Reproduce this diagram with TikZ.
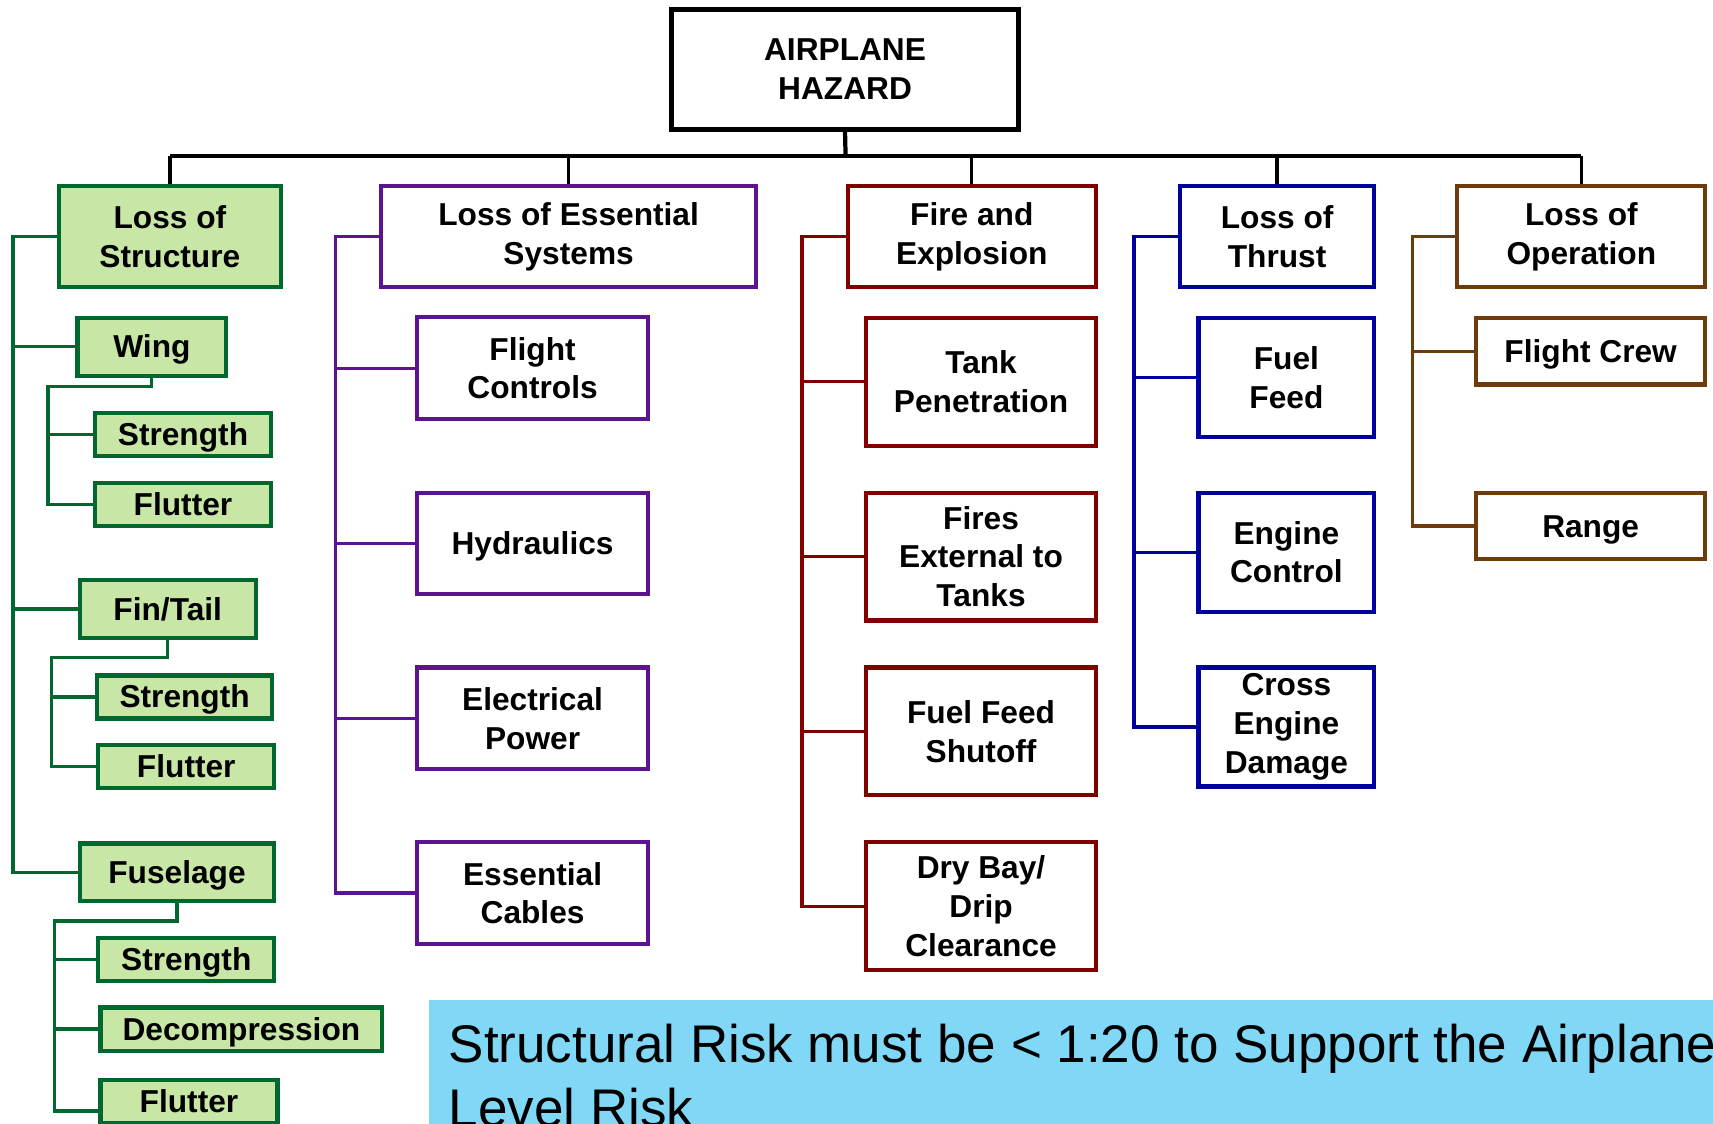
\documentclass[tikz,border=0pt]{standalone}
\usepackage{fontspec}
\setmainfont{Liberation Sans}
\definecolor{strgreen}{HTML}{00682F}
\definecolor{strfill}{HTML}{C8E6A6}
\definecolor{esspurple}{HTML}{5C1390}
\definecolor{firered}{HTML}{800000}
\definecolor{thrustblue}{HTML}{00009C}
\definecolor{opbrown}{HTML}{6E3C0A}
\definecolor{notecyan}{HTML}{80D7F6}
\begin{document}
\begin{tikzpicture}[x=1cm, y=-1cm,
    box/.style={draw, line width=1.1pt, align=center, inner sep=1pt,
        font=\fontsize{8.25}{10.1}\selectfont\bfseries},
    oneline/.style={text height=7.47pt, text depth=1.75pt},
    strbox/.style={box, draw=strgreen, fill=strfill},
    substr/.style={strbox, oneline},
    essbox/.style={box, draw=esspurple, minimum width=2.11cm, minimum height=0.93cm},
    firebox/.style={box, draw=firered, minimum width=2.10cm, minimum height=1.17cm},
    thbox/.style={box, draw=thrustblue, minimum width=1.61cm, minimum height=1.09cm},
    opbox/.style={box, draw=opbrown, minimum width=2.10cm, minimum height=0.61cm, oneline},
    busline/.style={line width=1.1pt},
    link/.style={line width=0.85pt},
    note/.style={fill=notecyan, anchor=north west, align=left,
        inner xsep=0.18cm, inner ysep=0.215cm,
        font=\fontsize{13.8}{16.8}\selectfont}]
    \useasboundingbox (0,0) rectangle (15.68,10.28);
    \clip (0,0) rectangle (15.68,10.28);

    % Top
    \node[box, line width=1.4pt, minimum width=3.18cm, minimum height=1.10cm] (hazard) at (7.735,0.635) {AIRPLANE\\HAZARD};

    % Level 1
    \node[strbox, minimum width=2.03cm, minimum height=0.93cm] (struct) at (1.555,2.165) {Loss of\\Structure};
    \node[box, draw=esspurple, minimum width=3.43cm, minimum height=0.93cm] (essen) at (5.205,2.165) {Loss of Essential\\Systems};
    \node[box, draw=firered, minimum width=2.27cm, minimum height=0.93cm] (fire) at (8.895,2.165) {Fire and\\Explosion};
    \node[box, draw=thrustblue, minimum width=1.78cm, minimum height=0.93cm] (thrust) at (11.69,2.165) {Loss of\\Thrust};
    \node[box, draw=opbrown, minimum width=2.27cm, minimum height=0.93cm] (oper) at (14.475,2.165) {Loss of\\Operation};

    \coordinate (topbus) at (7.74,1.43);
    \draw[busline] (hazard.south) -- (topbus);
    \draw[busline] (struct.north |- topbus) -- (oper.north |- topbus);
    \foreach \n in {struct,essen,fire,thrust,oper}
        \draw[link] (\n.north) -- (\n.north |- topbus);

    % Structure
    \node[substr, minimum width=1.36cm, minimum height=0.53cm] (wing) at (1.39,3.175) {Wing};
    \node[substr, minimum width=1.61cm, minimum height=0.37cm] (wstr) at (1.675,3.975) {Strength};
    \node[substr, minimum width=1.61cm, minimum height=0.37cm] (wflu) at (1.675,4.615) {Flutter};
    \node[substr, minimum width=1.61cm, minimum height=0.53cm] (fin) at (1.535,5.575) {Fin/Tail};
    \node[substr, minimum width=1.60cm, minimum height=0.36cm] (fstr) at (1.69,6.38) {Strength};
    \node[substr, minimum width=1.61cm, minimum height=0.37cm] (fflu) at (1.705,7.015) {Flutter};
    \node[substr, minimum width=1.78cm, minimum height=0.53cm] (fus) at (1.62,7.985) {Fuselage};
    \node[substr, minimum width=1.61cm, minimum height=0.37cm] (ustr) at (1.705,8.785) {Strength};
    \node[substr, minimum width=2.58cm, minimum height=0.38cm] (udec) at (2.21,9.42) {Decompression};
    \node[substr, minimum width=1.62cm, minimum height=0.38cm] (uflu) at (1.73,10.08) {Flutter};

    \coordinate (stbus) at (0.12,2.165);
    \draw[link, strgreen] (struct.west) -- (stbus) |- (fus.west);
    \foreach \n in {wing,fin}
        \draw[link, strgreen] (stbus |- \n.west) -- (\n.west);
    \foreach \p/\s/\f/\x/\y in {wing/wstr/wflu/0.44/3.54, fin/fstr/fflu/0.47/6.02} {
        \coordinate (\p bus) at (\x,\y);
        \draw[link, strgreen] (\p.south) |- (\p bus) |- (\f.west);
        \draw[link, strgreen] (\p bus |- \s.west) -- (\s.west);
    }
    \coordinate (fusbus) at (0.50,8.43);
    \draw[link, strgreen] (fus.south) |- (fusbus) |- ([yshift=-0.09cm]uflu.west);
    \foreach \n in {ustr,udec}
        \draw[link, strgreen] (fusbus |- \n.west) -- (\n.west);

    % Essential Systems
    \node[essbox] (fctl) at (4.875,3.37) {Flight\\Controls};
    \node[essbox, oneline] (hydr) at (4.875,4.975) {Hydraulics};
    \node[essbox] (elec) at (4.875,6.575) {Electrical\\Power};
    \node[essbox] (ecab) at (4.875,8.175) {Essential\\Cables};
    \coordinate (esbus) at (3.07,2.165);
    \draw[link, esspurple] (essen.west) -- (esbus) |- (ecab.west);
    \foreach \n in {fctl,hydr,elec}
        \draw[link, esspurple] (esbus |- \n.west) -- (\n.west);

    % Fire and Explosion
    \node[firebox] (tank) at (8.98,3.495) {Tank\\Penetration};
    \node[firebox] (fext) at (8.98,5.095) {Fires\\External to\\Tanks};
    \node[firebox] (fshut) at (8.98,6.695) {Fuel Feed\\Shutoff};
    \node[firebox] (dbay) at (8.98,8.295) {Dry Bay/\\Drip\\Clearance};
    \coordinate (firebus) at (7.34,2.165);
    \draw[link, firered] (fire.west) -- (firebus) |- (dbay.west);
    \foreach \n in {tank,fext,fshut}
        \draw[link, firered] (firebus |- \n.west) -- (\n.west);

    % Thrust
    \node[thbox] (ffeed) at (11.775,3.455) {Fuel\\Feed};
    \node[thbox] (engc) at (11.775,5.055) {Engine\\Control};
    \node[thbox] (xeng) at (11.775,6.655) {Cross\\Engine\\Damage};
    \coordinate (thbus) at (10.38,2.165);
    \draw[link, thrustblue] (thrust.west) -- (thbus) |- (xeng.west);
    \foreach \n in {ffeed,engc}
        \draw[link, thrustblue] (thbus |- \n.west) -- (\n.west);

    % Operation
    \node[opbox] (crew) at (14.56,3.215) {Flight Crew};
    \node[opbox] (range) at (14.56,4.815) {Range};
    \coordinate (opbus) at (12.93,2.165);
    \draw[link, opbrown] (oper.west) -- (opbus) |- (range.west);
    \draw[link, opbrown] (opbus |- crew.west) -- (crew.west);

    % Note
    \node[note] (note) at (3.92,9.15) {Structural Risk must be < 1:20 to Support the Airplane\\Level Risk};
\end{tikzpicture}
\end{document}
